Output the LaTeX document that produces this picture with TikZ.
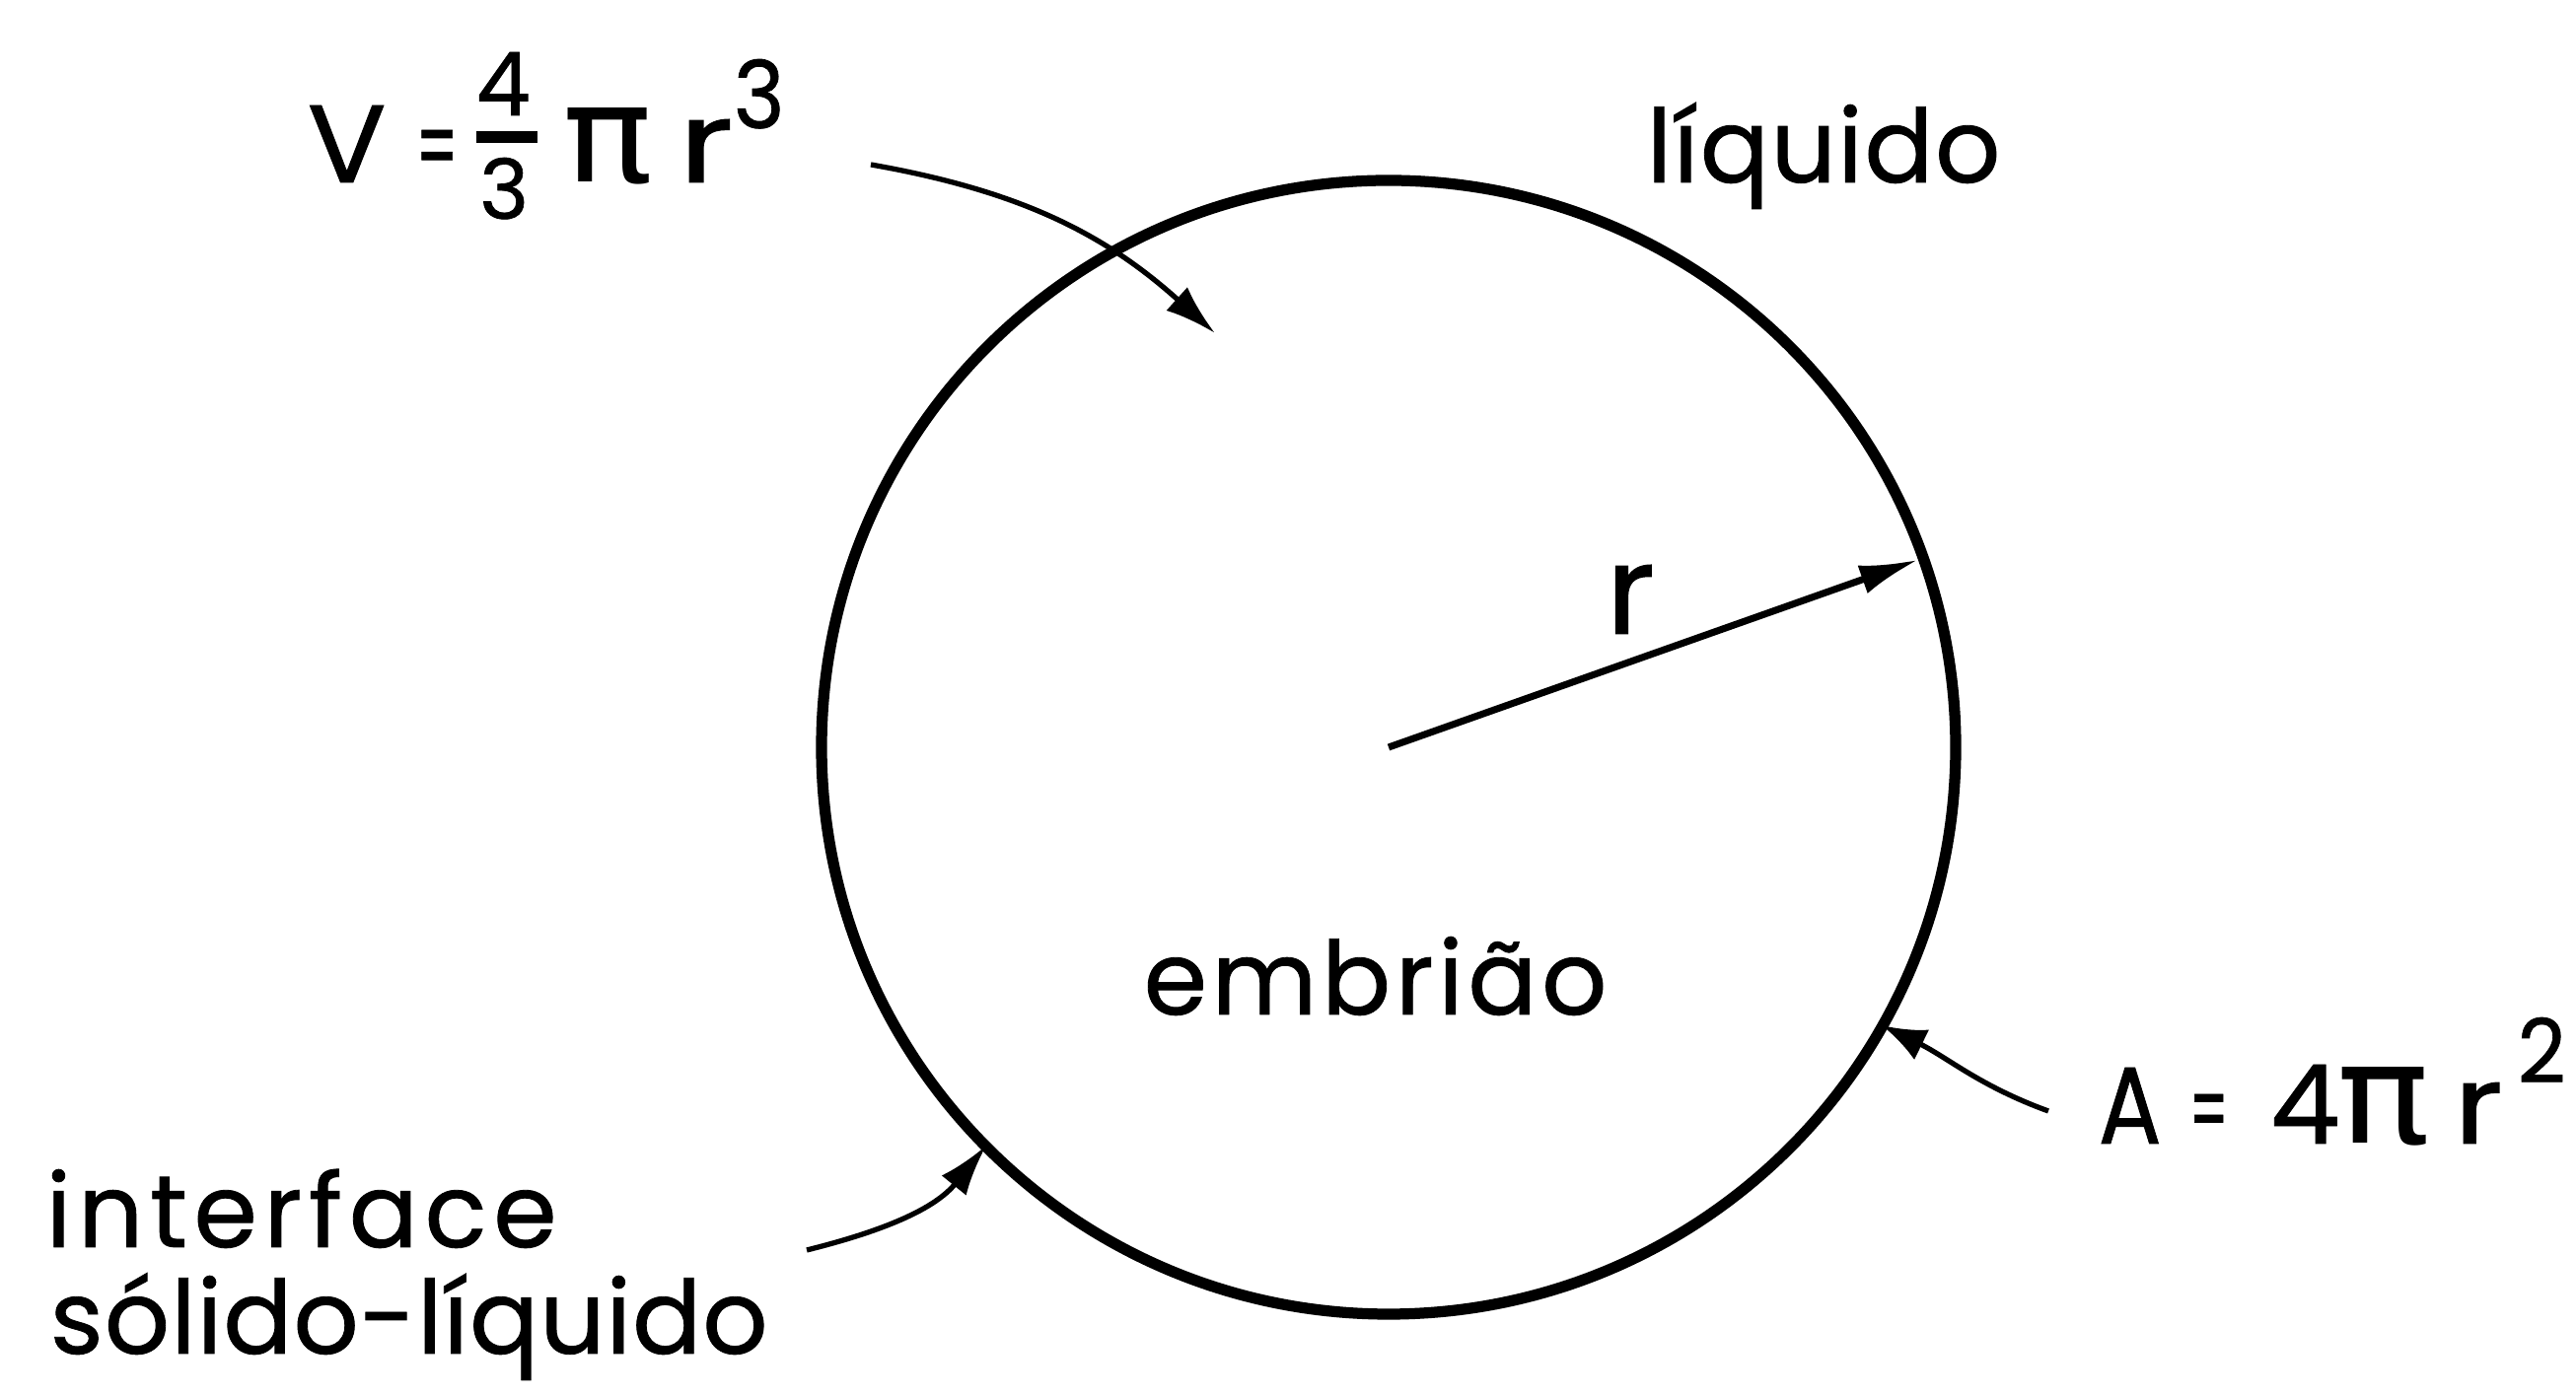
\documentclass[tikz,border=0pt]{standalone}
\usepackage{fontspec}
\usepackage{graphicx}
\usetikzlibrary{arrows.meta,calc}
\newfontfamily\fEmb[LetterSpace=4.5,FakeBold=0.8]{Poppins}
\newfontfamily\fLiq[LetterSpace=1.5,FakeBold=0.8]{Poppins}
\newfontfamily\fInt[LetterSpace=6.5,FakeBold=0.8]{Poppins}
\newfontfamily\fSol[LetterSpace=1,FakeBold=0.8]{Poppins}
\newfontfamily\fGl[FakeBold=0.8]{Poppins}
\newfontfamily\symf{DejaVu Sans}
\newcommand{\gl}[3]{\resizebox{#1}{#2}{#3}}
\begin{document}
\begin{tikzpicture}[
  txt/.style={inner sep=0pt, anchor=base west},
  lead/.style={line width=1.5pt, -{Latex[length=0.52cm,width=0.32cm]}},
  leadsmall/.style={line width=1.5pt, -{Latex[length=0.45cm,width=0.34cm]}},
  rad/.style={line width=2pt, -{Latex[length=0.6cm,width=0.3cm]}},
  rim/.style={line width=3.2pt}
]
\useasboundingbox (0,0) rectangle (26.12,14.15);
% embryo
\coordinate (C) at (14.08,6.57);
\draw[rim] (C) circle (5.75);
\coordinate (R) at ($(C)+(19.5:5.70)$);
\draw[rad] (C) -- (R);
\node[inner sep=0pt, font=\fGl\fontsize{29.5}{34}\selectfont] (rl) at (16.53,8.07) {\gl{0.5cm}{0.70cm}{r}};
% labels
\node[txt, font=\fEmb\fontsize{29.5}{34}\selectfont] (emb) at (11.59,3.86) {embrião};
\node[txt, font=\fLiq\fontsize{29.5}{34}\selectfont] (liq) at (16.69,12.30) {líquido};
\node[txt, font=\fInt\fontsize{29.5}{34}\selectfont] (int1) at (0.46,1.50) {interface};
\node[txt, font=\fSol\fontsize{29.5}{34}\selectfont] (int2) at (0.50,0.42) {sólido-líquido};
% V formula
\node[txt, font=\fGl\fontsize{30}{34}\selectfont] (vol) at (3.11,12.30) {%
\gl{0.80cm}{0.78cm}{V}\hspace{0.30cm}%
\gl{0.43cm}{0.53cm}{=}\hspace{0.18cm}%
\makebox[0.62cm][l]{\rlap{\raisebox{0.40cm}{\rule{0.62cm}{0.12cm}}}\rlap{\raisebox{0.68cm}{\gl{0.55cm}{0.64cm}{4}}}\rlap{\hspace{0.035cm}\raisebox{-0.37cm}{\gl{0.50cm}{0.62cm}{3}}}}%
\hspace{0.26cm}\gl{0.92cm}{0.75cm}{\symf π}%
\hspace{0.25cm}\gl{0.56cm}{0.64cm}{r}%
\raisebox{0.55cm}{\gl{0.52cm}{0.70cm}{3}}};
% A formula
\node[txt, font=\fGl\fontsize{30}{34}\selectfont] (area) at (21.27,2.55) {%
\gl{0.64cm}{0.77cm}{A}\hspace{0.28cm}%
\gl{0.40cm}{0.50cm}{=}\hspace{0.42cm}%
\gl{0.71cm}{0.80cm}{4}\hspace{-0.03cm}%
\gl{0.95cm}{0.77cm}{\symf π}\hspace{0.23cm}%
\gl{0.50cm}{0.62cm}{r}\hspace{0.15cm}%
\raisebox{0.62cm}{\gl{0.49cm}{0.66cm}{2}}};
% leaders
\coordinate (vs) at (8.83,12.48);
\coordinate (vt) at (12.32,10.77);
\draw[lead] (vs) to[out=-10,in=138] (vt);
\coordinate (as) at (20.77,2.88);
\coordinate (at) at (19.08,3.75);
\draw[leadsmall] (as) to[out=160,in=-26] (at);
\coordinate (is) at (8.18,1.47);
\coordinate (it) at (10.00,2.53);
\draw[lead] (is) to[out=14,in=231] (it);
\end{tikzpicture}
\end{document}
